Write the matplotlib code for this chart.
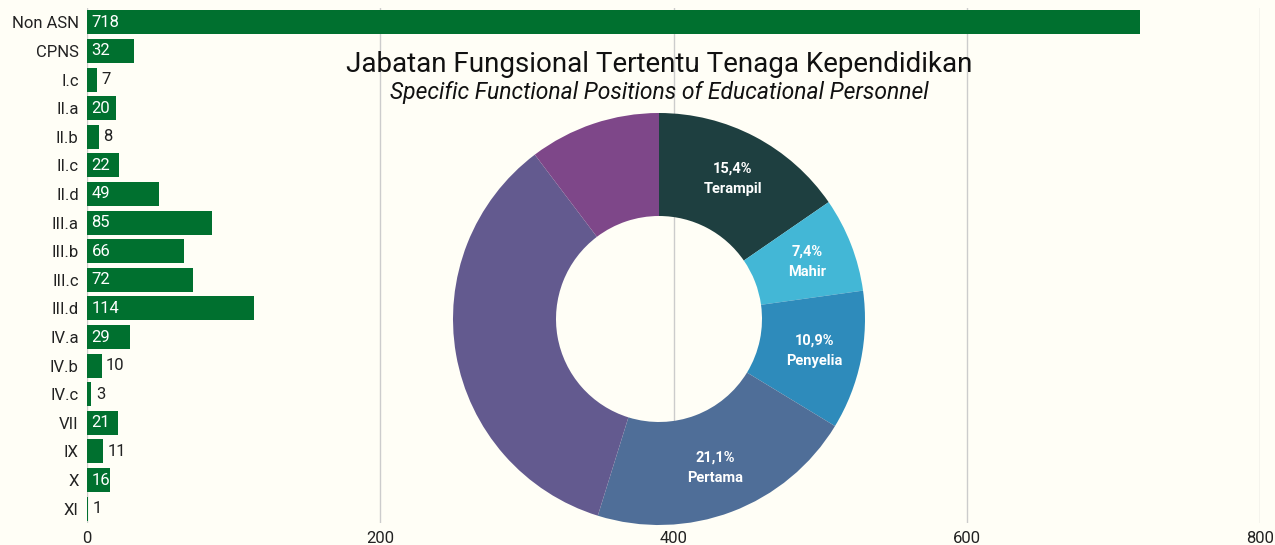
import numpy as np
import matplotlib.pyplot as plt

plt.rcParams['font.family'] = ['Roboto', 'DejaVu Sans']

# bar data
golongan = ['Non ASN', 'CPNS', 'I.c', 'II.a', 'II.b', 'II.c', 'II.d', 'III.a', 'III.b',
            'III.c', 'III.d', 'IV.a', 'IV.b', 'IV.c', 'VII', 'IX', 'X', 'XI']
jumlah = [718, 32, 7, 20, 8, 22, 49, 85, 66, 72, 114, 29, 10, 3, 21, 11, 16, 1]
x_ticks = [0, 200, 400, 600, 800]

# donut data
jenjang = ['Terampil', 'Mahir', 'Penyelia', 'Pertama', '', '']
persen = [15.4, 7.4, 10.9, 21.1, 34.9, 10.3]
warna = ['#1e3f40', '#43b7d6', '#2e8bbb', '#4f6e98', '#635a8f', '#7e4789']

bg = '#fffef6'
green = '#00702f'

fig = plt.figure(figsize=(12.75, 5.45), dpi=100, facecolor=bg)

ax = fig.add_axes([87 / 1275, 22 / 545, (1260 - 87) / 1275, (537 - 22) / 545])
ax.set_facecolor(bg)
ypos = list(range(len(golongan)))
ax.barh(ypos, jumlah, height=0.84, color=green, zorder=2)
ax.set_ylim(len(golongan) - 0.5, -0.5)
ax.set_xlim(0, 800)
ax.set_yticks(ypos)
ax.set_yticklabels(golongan, fontsize=12, color='#222222')
ax.set_xticks(x_ticks)
ax.set_xticklabels([str(t) for t in x_ticks], fontsize=12, color='#222222')
ax.tick_params(length=0, pad=6)
for s in ax.spines.values():
    s.set_visible(False)
ax.grid(axis='x', color='#cccccc', linewidth=1, zorder=0)
ax.set_axisbelow(True)

# value labels: inside for wide bars, outside for narrow ones
for y, v in zip(ypos, jumlah):
    if v >= 15:
        ax.text(3, y, str(v), color='white', fontsize=12, va='center', ha='left', zorder=3)
    else:
        ax.text(v + 3, y, str(v), color='#222222', fontsize=12, va='center', ha='left', zorder=3)

# title
fig.text(659 / 1275, 1 - 65 / 545, 'Jabatan Fungsional Tertentu Tenaga Kependidikan',
         ha='center', va='center', fontsize=20, color='#111111')
fig.text(659 / 1275, 1 - 92 / 545, 'Specific Functional Positions of Educational Personnel',
         ha='center', va='center', fontsize=16.5, style='italic', color='#111111')

# donut
cx, cy, r = 659, 319, 206
dax = fig.add_axes([(cx - r) / 1275, (545 - cy - r) / 545, 2 * r / 1275, 2 * r / 545])
dax.patch.set_alpha(0)
dax.pie(persen, colors=warna, startangle=90, counterclock=False, radius=1,
        wedgeprops=dict(width=0.5, edgecolor='none'))
dax.set_xlim(-1, 1)
dax.set_ylim(-1, 1)

start = 90
for nama, p in zip(jenjang, persen):
    mid = start - p * 3.6 / 2
    start -= p * 3.6
    if not nama:
        continue
    tx = 0.77 * np.cos(np.radians(mid))
    ty = 0.77 * np.sin(np.radians(mid))
    lbl = f'{p:.1f}%'.replace('.', ',') + '\n' + nama
    dax.text(tx, ty, lbl, ha='center', va='center', color='white', fontsize=10.5,
             fontweight='bold', linespacing=1.6)

fig.savefig('out.png', dpi=100, facecolor=bg)
